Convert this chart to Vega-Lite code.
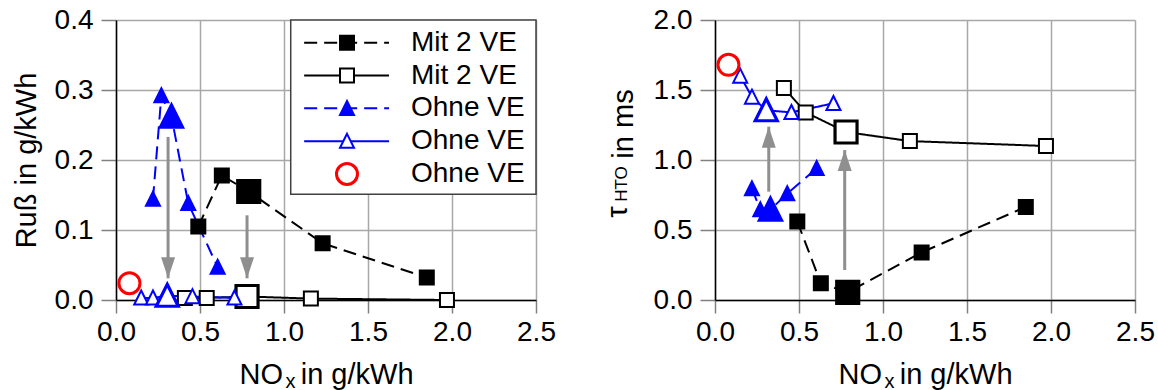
{
  "$schema": "https://vega.github.io/schema/vega-lite/v6.json",
  "padding": {"left": 11, "top": 6, "right": 0, "bottom": 0},
  "spacing": 47,
  "datasets": {
    "punkte": [
      {"series": "Mit 2 VE #1", "nox": 0.49, "russ": 0.105, "tau": 0.56, "highlight": 0},
      {"series": "Mit 2 VE #1", "nox": 0.63, "russ": 0.178, "tau": 0.12, "highlight": 0},
      {"series": "Mit 2 VE #1", "nox": 0.79, "russ": 0.155, "tau": 0.055, "highlight": 1},
      {"series": "Mit 2 VE #1", "nox": 1.23, "russ": 0.081, "tau": 0.34, "highlight": 0},
      {"series": "Mit 2 VE #1", "nox": 1.85, "russ": 0.032, "tau": 0.665, "highlight": 0},
      {"series": "Mit 2 VE #2", "nox": 0.41, "russ": 0.003, "tau": 1.515, "highlight": 0},
      {"series": "Mit 2 VE #2", "nox": 0.54, "russ": 0.003, "tau": 1.34, "highlight": 0},
      {"series": "Mit 2 VE #2", "nox": 0.78, "russ": 0.005, "tau": 1.2, "highlight": 1},
      {"series": "Mit 2 VE #2", "nox": 1.16, "russ": 0.002, "tau": 1.135, "highlight": 0},
      {"series": "Mit 2 VE #2", "nox": 1.97, "russ": 0.0, "tau": 1.1, "highlight": 0},
      {"series": "Ohne VE #1", "nox": 0.22, "russ": 0.144, "tau": 0.795, "highlight": 0},
      {"series": "Ohne VE #1", "nox": 0.27, "russ": 0.292, "tau": 0.645, "highlight": 0},
      {"series": "Ohne VE #1", "nox": 0.33, "russ": 0.262, "tau": 0.645, "highlight": 1},
      {"series": "Ohne VE #1", "nox": 0.43, "russ": 0.138, "tau": 0.76, "highlight": 0},
      {"series": "Ohne VE #1", "nox": 0.605, "russ": 0.047, "tau": 0.94, "highlight": 0},
      {"series": "Ohne VE #2", "nox": 0.15, "russ": 0.003, "tau": 1.6, "highlight": 0},
      {"series": "Ohne VE #2", "nox": 0.22, "russ": 0.003, "tau": 1.45, "highlight": 0},
      {"series": "Ohne VE #2", "nox": 0.305, "russ": 0.006, "tau": 1.355, "highlight": 1},
      {"series": "Ohne VE #2", "nox": 0.455, "russ": 0.005, "tau": 1.34, "highlight": 0},
      {"series": "Ohne VE #2", "nox": 0.705, "russ": 0.003, "tau": 1.405, "highlight": 0},
      {"series": "Ohne VE #3", "nox": 0.08, "russ": 0.024, "tau": 1.68, "highlight": 0}
    ],
    "legende": [
      {"series": "Mit 2 VE #1", "label": "Mit 2 VE"},
      {"series": "Mit 2 VE #2", "label": "Mit 2 VE"},
      {"series": "Ohne VE #1", "label": "Ohne VE"},
      {"series": "Ohne VE #2", "label": "Ohne VE"},
      {"series": "Ohne VE #3", "label": "Ohne VE"}
    ],
    "pfeile_russ": [
      {"nox": 0.31, "from": 0.233, "to": 0.031},
      {"nox": 0.78, "from": 0.121, "to": 0.031}
    ],
    "pfeile_tau": [
      {"nox": 0.32, "from": 0.774, "to": 1.238},
      {"nox": 0.772, "from": 0.214, "to": 1.071}
    ]
  },
  "resolve": {
    "scale": {
      "stroke": "independent", "fill": "independent", "strokeDash": "independent",
      "shape": "independent", "size": "independent", "strokeWidth": "independent"
    }
  },
  "hconcat": [
    {
      "width": 420,
      "height": 280,
      "resolve": {"scale": {"y": "independent"}, "axis": {"y": "independent"}},
      "layer": [
        {
          "resolve": {"axis": {"x": "independent", "y": "independent"}},
          "layer": [
            {
              "data": {"name": "punkte"},
              "layer": [
                {
                  "transform": [{"filter": "datum.series != 'Ohne VE #3'"}],
                  "mark": {"type": "line", "strokeWidth": 2},
                  "encoding": {
                    "x": {
                      "field": "nox", "type": "quantitative",
                      "scale": {"domain": [0, 2.5], "nice": false, "zero": false},
                      "axis": {
                        "values": [0, 0.5, 1, 1.5, 2, 2.5], "format": ".1f",
                        "tickSize": 13, "labelPadding": 5,
                        "title": "NO\u2004 in g/kWh", "titleY": 83, "titleBaseline": "alphabetic"
                      }
                    },
                    "y": {
                      "field": "russ", "type": "quantitative",
                      "scale": {"domain": [0, 0.4], "nice": false, "zero": false},
                      "axis": {
                        "values": [0, 0.1, 0.2, 0.3, 0.4], "format": ".1f",
                        "tickSize": 15, "labelPadding": 8,
                        "title": "Ruß in g/kWh", "titleX": -81, "titleY": 140, "titleBaseline": "alphabetic"
                      }
                    },
                    "stroke": {
                      "field": "series", "type": "nominal", "legend": null,
                      "scale": {
                        "domain": ["Mit 2 VE #1", "Mit 2 VE #2", "Ohne VE #1", "Ohne VE #2", "Ohne VE #3"],
                        "range": ["black", "black", "blue", "blue", "red"]
                      }
                    },
                    "strokeDash": {
                      "field": "series", "type": "nominal", "legend": null,
                      "scale": {
                        "domain": ["Mit 2 VE #1", "Mit 2 VE #2", "Ohne VE #1", "Ohne VE #2"],
                        "range": [[13, 7], [1, 0], [13, 7], [1, 0]]
                      }
                    }
                  }
                },
                {
                  "transform": [{"filter": "datum.series != 'Ohne VE #3'"}],
                  "mark": {"type": "point", "opacity": 1},
                  "encoding": {
                    "x": {"field": "nox", "type": "quantitative"},
                    "y": {"field": "russ", "type": "quantitative"},
                    "shape": {
                      "field": "series", "type": "nominal", "legend": null,
                      "scale": {
                        "domain": ["Mit 2 VE #1", "Mit 2 VE #2", "Ohne VE #1", "Ohne VE #2", "Ohne VE #3"],
                        "range": ["square", "square", "M0,-1.05L1,0.95L-1,0.95Z", "M0,-1.05L1,0.95L-1,0.95Z", "circle"]
                      }
                    },
                    "fill": {
                      "field": "series", "type": "nominal", "legend": null,
                      "scale": {
                        "domain": ["Mit 2 VE #1", "Mit 2 VE #2", "Ohne VE #1", "Ohne VE #2", "Ohne VE #3"],
                        "range": ["black", "white", "blue", "white", "white"]
                      }
                    },
                    "stroke": {"field": "series", "type": "nominal", "legend": null},
                    "size": {
                      "field": "highlight", "type": "quantitative", "legend": null,
                      "scale": {"domain": [0, 1], "range": [196, 484]}
                    },
                    "strokeWidth": {
                      "field": "highlight", "type": "quantitative", "legend": null,
                      "scale": {"domain": [0, 1], "range": [2, 3.2]}
                    }
                  }
                },
                {
                  "transform": [{"filter": "datum.series == 'Ohne VE #3'"}],
                  "mark": {"type": "point", "shape": "circle", "size": 441, "strokeWidth": 3, "opacity": 1, "fill": "white", "stroke": "red"},
                  "encoding": {
                    "x": {"field": "nox", "type": "quantitative"},
                    "y": {"field": "russ", "type": "quantitative"}
                  }
                }
              ]
            },
            {
              "data": {"name": "pfeile_russ"},
              "layer": [
                {
                  "mark": {"type": "rule", "color": "#8f8f8f", "strokeWidth": 3},
                  "encoding": {
                    "x": {
                      "field": "nox", "type": "quantitative",
                      "scale": {"domain": [0, 2.5], "nice": false, "zero": false},
                      "axis": {
                        "orient": "bottom", "labels": false, "ticks": false, "domain": false, "grid": false,
                        "title": "x", "titleFontSize": 20, "titleX": 174, "titleY": 87, "titleBaseline": "alphabetic"
                      }
                    },
                    "y": {
                      "field": "from", "type": "quantitative", "axis": null,
                      "scale": {"domain": [0, 0.4], "nice": false, "zero": false}
                    },
                    "y2": {"field": "to"}
                  }
                },
                {
                  "mark": {"type": "point", "shape": "M0,0L-1,-3L1,-3Z", "size": 196, "filled": true, "color": "#8f8f8f", "opacity": 1},
                  "encoding": {
                    "x": {"field": "nox", "type": "quantitative"},
                    "y": {"field": "to", "type": "quantitative"}
                  }
                }
              ]
            },
            {
              "data": {"values": [{}]},
              "mark": {"type": "rect", "fill": "white", "stroke": "#404040", "strokeWidth": 1.5},
              "encoding": {
                "x": {"datum": 1.04, "type": "quantitative", "axis": null},
                "x2": {"datum": 2.5},
                "y": {"datum": 0.4, "type": "quantitative", "axis": null},
                "y2": {"datum": 0.151}
              }
            }
          ]
        },
        {
          "data": {"name": "legende"},
          "layer": [
            {
              "transform": [{"filter": "datum.series != 'Ohne VE #3'"}],
              "mark": {"type": "rule", "strokeWidth": 2},
              "encoding": {
                "x": {"datum": 1.12, "type": "quantitative", "axis": null},
                "x2": {"datum": 1.625},
                "y": {
                  "field": "series", "type": "nominal", "axis": null,
                  "scale": {
                    "type": "point", "padding": 0, "range": [22.7, 154],
                    "domain": ["Mit 2 VE #1", "Mit 2 VE #2", "Ohne VE #1", "Ohne VE #2", "Ohne VE #3"]
                  }
                },
                "stroke": {"field": "series", "type": "nominal", "legend": null},
                "strokeDash": {"field": "series", "type": "nominal", "legend": null}
              }
            },
            {
              "transform": [{"filter": "datum.series != 'Ohne VE #3'"}],
              "mark": {"type": "point", "opacity": 1, "size": 196, "strokeWidth": 2},
              "encoding": {
                "x": {"datum": 1.375, "type": "quantitative", "axis": null},
                "y": {"field": "series", "type": "nominal", "axis": null},
                "shape": {"field": "series", "type": "nominal", "legend": null},
                "fill": {"field": "series", "type": "nominal", "legend": null},
                "stroke": {"field": "series", "type": "nominal", "legend": null}
              }
            },
            {
              "transform": [{"filter": "datum.series == 'Ohne VE #3'"}],
              "mark": {"type": "point", "shape": "circle", "size": 441, "strokeWidth": 3, "opacity": 1, "fill": "white", "stroke": "red"},
              "encoding": {
                "x": {"datum": 1.375, "type": "quantitative", "axis": null},
                "y": {"field": "series", "type": "nominal", "axis": null}
              }
            },
            {
              "mark": {"type": "text", "align": "left", "baseline": "middle", "font": "Liberation Sans", "fontSize": 28, "color": "black"},
              "encoding": {
                "x": {"datum": 1.756, "type": "quantitative", "axis": null},
                "y": {"field": "series", "type": "nominal", "axis": null},
                "text": {"field": "label"}
              }
            }
          ]
        }
      ]
    },
    {
      "width": 420,
      "height": 280,
      "resolve": {"axis": {"x": "independent", "y": "independent"}},
      "layer": [
        {
          "data": {"name": "punkte"},
          "layer": [
            {
              "transform": [{"filter": "datum.series != 'Ohne VE #3'"}],
              "mark": {"type": "line", "strokeWidth": 2},
              "encoding": {
                "x": {
                  "field": "nox", "type": "quantitative",
                  "scale": {"domain": [0, 2.5], "nice": false, "zero": false},
                  "axis": {
                    "values": [0, 0.5, 1, 1.5, 2, 2.5], "format": ".1f",
                    "tickSize": 13, "labelPadding": 5,
                    "title": "NO\u2004 in g/kWh", "titleY": 83, "titleBaseline": "alphabetic"
                  }
                },
                "y": {
                  "field": "tau", "type": "quantitative",
                  "scale": {"domain": [0, 2], "nice": false, "zero": false},
                  "axis": {
                    "values": [0, 0.5, 1, 1.5, 2], "format": ".1f",
                    "tickSize": 15, "labelPadding": 8,
                    "title": "in ms", "titleX": -83, "titleY": 103.5, "titleBaseline": "alphabetic"
                  }
                },
                "stroke": {
                  "field": "series", "type": "nominal", "legend": null,
                  "scale": {
                    "domain": ["Mit 2 VE #1", "Mit 2 VE #2", "Ohne VE #1", "Ohne VE #2"],
                    "range": ["black", "black", "blue", "blue"]
                  }
                },
                "strokeDash": {
                  "field": "series", "type": "nominal", "legend": null,
                  "scale": {
                    "domain": ["Mit 2 VE #1", "Mit 2 VE #2", "Ohne VE #1", "Ohne VE #2"],
                    "range": [[13, 7], [1, 0], [13, 7], [1, 0]]
                  }
                }
              }
            },
            {
              "transform": [{"filter": "datum.series != 'Ohne VE #3'"}],
              "mark": {"type": "point", "opacity": 1},
              "encoding": {
                "x": {"field": "nox", "type": "quantitative"},
                "y": {"field": "tau", "type": "quantitative"},
                "shape": {
                  "field": "series", "type": "nominal", "legend": null,
                  "scale": {
                    "domain": ["Mit 2 VE #1", "Mit 2 VE #2", "Ohne VE #1", "Ohne VE #2"],
                    "range": ["square", "square", "M0,-1.05L1,0.95L-1,0.95Z", "M0,-1.05L1,0.95L-1,0.95Z"]
                  }
                },
                "fill": {
                  "field": "series", "type": "nominal", "legend": null,
                  "scale": {
                    "domain": ["Mit 2 VE #1", "Mit 2 VE #2", "Ohne VE #1", "Ohne VE #2"],
                    "range": ["black", "white", "blue", "white"]
                  }
                },
                "stroke": {"field": "series", "type": "nominal", "legend": null},
                "size": {
                  "field": "highlight", "type": "quantitative", "legend": null,
                  "scale": {"domain": [0, 1], "range": [196, 484]}
                },
                "strokeWidth": {
                  "field": "highlight", "type": "quantitative", "legend": null,
                  "scale": {"domain": [0, 1], "range": [2, 3.2]}
                }
              }
            }
          ]
        },
        {
          "data": {"name": "pfeile_tau"},
          "layer": [
            {
              "mark": {"type": "rule", "color": "#8f8f8f", "strokeWidth": 3},
              "encoding": {
                "x": {
                  "field": "nox", "type": "quantitative",
                  "scale": {"domain": [0, 2.5], "nice": false, "zero": false},
                  "axis": {
                    "orient": "bottom", "labels": false, "ticks": false, "domain": false, "grid": false,
                    "title": "x", "titleFontSize": 20, "titleX": 174, "titleY": 87, "titleBaseline": "alphabetic"
                  }
                },
                "y": {
                  "field": "from", "type": "quantitative",
                  "scale": {"domain": [0, 2], "nice": false, "zero": false},
                  "axis": {
                    "orient": "left", "labels": false, "ticks": false, "domain": false, "grid": false,
                    "title": "HTO", "titleFontSize": 17, "titleX": -89, "titleY": 163.5, "titleBaseline": "alphabetic"
                  }
                },
                "y2": {"field": "to"}
              }
            },
            {
              "mark": {"type": "point", "shape": "M0,0L-1,3L1,3Z", "size": 196, "filled": true, "color": "#8f8f8f", "opacity": 1},
              "encoding": {
                "x": {"field": "nox", "type": "quantitative"},
                "y": {"field": "to", "type": "quantitative"}
              }
            }
          ]
        },
        {
          "data": {"name": "punkte"},
          "transform": [{"filter": "datum.series == 'Ohne VE #3'"}],
          "mark": {"type": "point", "shape": "circle", "size": 441, "strokeWidth": 3, "opacity": 1, "fill": "white", "stroke": "red"},
          "encoding": {
            "x": {"field": "nox", "type": "quantitative", "axis": null},
            "y": {
              "field": "tau", "type": "quantitative",
              "scale": {"domain": [0, 2], "nice": false, "zero": false},
              "axis": {
                "orient": "left", "labels": false, "ticks": false, "domain": false, "grid": false,
                "title": "τ", "titleX": -89, "titleY": 191.5, "titleBaseline": "alphabetic"
              }
            }
          }
        }
      ]
    }
  ],
  "config": {
    "font": "Liberation Sans",
    "view": {"stroke": null},
    "axis": {
      "labelFont": "Liberation Sans", "labelFontSize": 28, "labelColor": "black",
      "labelFlush": false, "labelOverlap": false,
      "titleFont": "Liberation Sans", "titleFontSize": 29, "titleFontWeight": "normal", "titleColor": "black",
      "gridColor": "#a8a8a8", "gridWidth": 1.5, "gridOpacity": 1,
      "domainColor": "black", "domainWidth": 1.5,
      "tickColor": "#808080", "tickWidth": 1.5
    }
  }
}
